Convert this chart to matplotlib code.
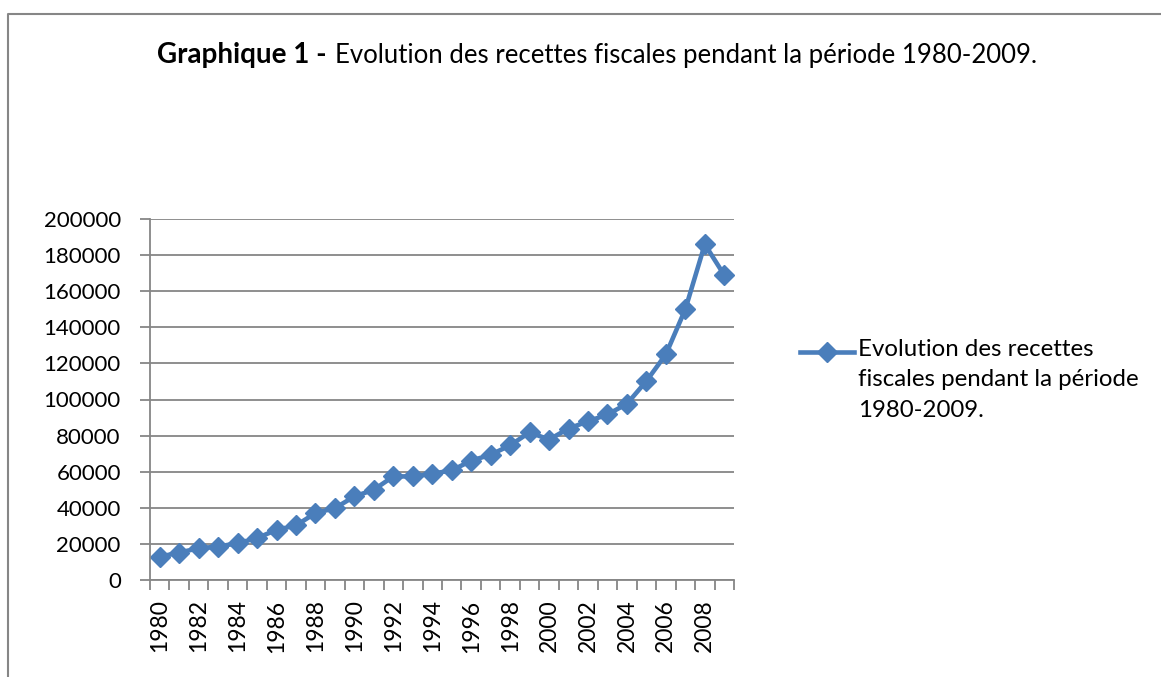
import matplotlib.pyplot as plt
from matplotlib.lines import Line2D

plt.rcParams['font.family'] = ['Lato', 'DejaVu Sans']

years = list(range(1980, 2010))
recettes = [12900, 15200, 17600, 18500, 20400, 23200, 27800, 30200, 37100, 39800,
            46300, 50000, 57400, 57400, 58900, 60700, 66100, 69400, 74600, 81800,
            77800, 83900, 87900, 91700, 97600, 110200, 125000, 150000, 186000, 168900]
yticks = list(range(0, 200001, 20000))
serie = "Evolution des recettes\nfiscales pendant la période\n1980-2009."

W, H = 1161, 677
blue = '#4a7ebb'
grey = '#868686'

fig = plt.figure(figsize=(W / 100, H / 100), dpi=100)
ax = fig.add_axes([150 / W, 1 - 580 / H, 584 / W, 361 / H])

x = list(range(len(years)))
ax.plot(x, recettes, color=blue, lw=3.3, marker='D', ms=10.5,
        markeredgecolor=blue, markerfacecolor=blue, solid_joinstyle='round')

ax.set_xlim(-0.5, len(years) - 0.5)
ax.set_ylim(0, 200000)
ax.set_yticks(yticks)
ax.set_yticklabels([str(v) for v in yticks])
ax.set_xticks(x[::2])
ax.set_xticklabels([str(y) for y in years[::2]], rotation=90)
ax.set_xticks([i - 0.5 for i in range(len(years) + 1)], minor=True)

ax.tick_params(axis='y', length=7, width=1.3, color=grey, labelsize=16, pad=14)
ax.tick_params(axis='x', which='major', length=0, labelsize=16.5, pad=14)
ax.tick_params(axis='x', which='minor', length=7, width=1.3, color=grey)

ax.grid(axis='y', color=grey, lw=1.3)
ax.set_axisbelow(True)
for s in ['top', 'right']:
    ax.spines[s].set_visible(False)
for s in ['left', 'bottom']:
    ax.spines[s].set_color(grey)
    ax.spines[s].set_linewidth(1.3)

# title
fig.text(327 / W, 1 - 63 / H, "Graphique 1 -", fontsize=20, fontweight='bold',
         ha='right', va='baseline')
fig.text(335 / W, 1 - 63 / H, "Evolution des recettes fiscales pendant la période 1980-2009.",
         fontsize=18.5, ha='left', va='baseline')

# legend
ly = 1 - 352 / H
fig.add_artist(Line2D([800 / W, 827 / W, 854 / W], [ly, ly, ly], color=blue, lw=3.3,
                      marker='D', ms=10.5, markevery=[1], transform=fig.transFigure))
fig.text(858 / W, 1 - 339 / H, serie, fontsize=17.3, ha='left', va='top',
         linespacing=1.55)

# frame
fig.add_artist(Line2D([8 / W, 8 / W, 1], [0, 1 - 14 / H, 1 - 14 / H], color=grey, lw=1.5,
                      transform=fig.transFigure))

fig.savefig('out.png', dpi=100)
